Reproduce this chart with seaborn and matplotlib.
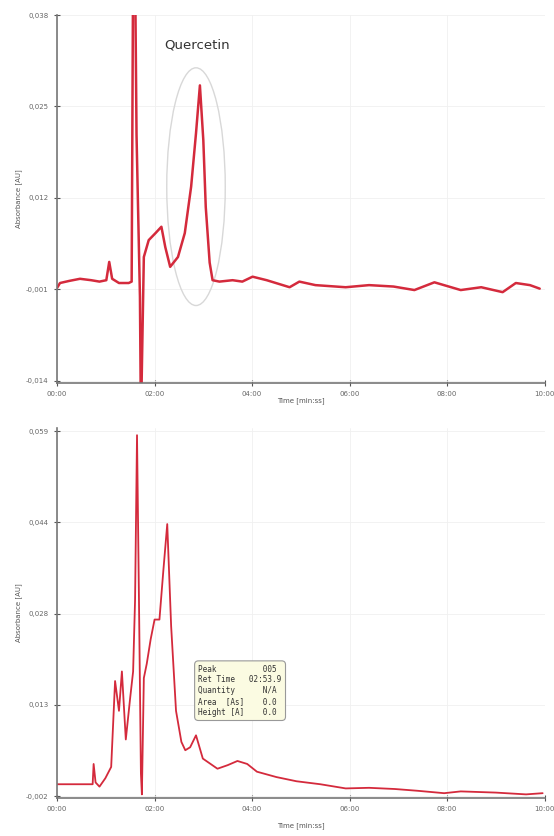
import seaborn as sns
import matplotlib.pyplot as plt
import pandas as pd
from matplotlib.patches import Ellipse

# ---- data (time in minutes, absorbance in AU) ----

top_time = [0.0, 0.06, 0.25, 0.47, 0.70, 0.87, 1.01, 1.07, 1.13, 1.27, 1.47, 1.53, 1.56, 1.60,
            1.63, 1.66, 1.70, 1.72, 1.78, 1.88, 2.02, 2.14, 2.22, 2.32, 2.48, 2.62,
            2.75, 2.85, 2.93, 3.00, 3.05, 3.13, 3.19, 3.33, 3.60, 3.80, 4.01, 4.30, 4.77, 4.97,
            5.30, 5.92, 6.40, 6.90, 7.33, 7.74, 8.28, 8.70, 9.14, 9.41, 9.70, 9.90]
top_abs = [-0.0008, -0.0001, 0.0002, 0.0005, 0.0003, 0.0001, 0.0003, 0.0029, 0.0005, -0.0001, -0.0001, 0.0001, 0.045, 0.045,
           0.021, 0.011, -0.002, -0.020, 0.0036, 0.0060, 0.0070, 0.0079, 0.0050, 0.0022, 0.0036, 0.0070,
           0.0136, 0.0212, 0.0280, 0.0202, 0.0107, 0.0028, 0.0003, 0.0001, 0.0003, 0.0001, 0.0008, 0.0003, -0.0007, 0.0001,
           -0.0004, -0.0007, -0.0004, -0.0006, -0.0011, 0.0000, -0.0011, -0.0007, -0.0014, -0.0001, -0.0004, -0.0009]

bot_time = [0.0, 0.73, 0.75, 0.79, 0.87, 0.99, 1.11, 1.19, 1.27, 1.33, 1.41, 1.50,
            1.56, 1.60, 1.64, 1.68, 1.72, 1.74, 1.78, 1.84, 1.92, 2.00, 2.10, 2.18,
            2.26, 2.34, 2.44, 2.55, 2.63, 2.73, 2.85, 2.99, 3.29, 3.50, 3.70, 3.90, 4.10,
            4.50, 4.91, 5.40, 5.92, 6.40, 6.93, 7.40, 7.94, 8.28, 9.00, 9.62, 9.96]
bot_abs = [-0.0002, -0.0002, 0.0032, 0.0001, -0.0006, 0.0008, 0.0027, 0.0171, 0.0121, 0.0187, 0.0073, 0.0143,
           0.0187, 0.0307, 0.0583, 0.0307, 0.0016, -0.0019, 0.0176, 0.0200, 0.0241, 0.0274, 0.0274, 0.0356,
           0.0434, 0.0263, 0.0121, 0.0069, 0.0055, 0.0060, 0.0080, 0.0041, 0.0024, 0.0030, 0.0037, 0.0032, 0.0019,
           0.0010, 0.0003, -0.0002, -0.0009, -0.0008, -0.0010, -0.0013, -0.0017, -0.0014, -0.0016, -0.0019, -0.0017]

x_ticks = [0, 2, 4, 6, 8, 10]
x_labels = ['00:00', '02:00', '04:00', '06:00', '08:00', '10:00']
top_yticks = [0.038, 0.025, 0.012, -0.001, -0.014]
top_ylabels = ['0,038', '0,025', '0,012', '-0,001', '-0,014']
bot_yticks = [0.059, 0.0437, 0.0284, 0.0131, -0.0022]
bot_ylabels = ['0,059', '0,044', '0,028', '0,013', '-0,002']

peak_info = ('Peak          005\n'
             'Ret Time   02:53.9\n'
             'Quantity      N/A\n'
             'Area  [As]    0.0\n'
             'Height [A]    0.0')

top_df = pd.DataFrame({'time': top_time, 'abs': top_abs})
bot_df = pd.DataFrame({'time': bot_time, 'abs': bot_abs})

sns.set_style('white')
fig = plt.figure(figsize=(5.54, 8.36), dpi=100)
ax1 = fig.add_axes([0.103, 0.542, 0.880, 0.440])
ax2 = fig.add_axes([0.103, 0.0455, 0.880, 0.4425])

red = '#d42a3c'
sns.lineplot(data=top_df, x='time', y='abs', ax=ax1, color=red, linewidth=1.8)
sns.lineplot(data=bot_df, x='time', y='abs', ax=ax2, color=red, linewidth=1.3)


def style_axis(ax, yticks, ylabels, ylim, xpad):
    ax.set_xlim(0, 10)
    ax.set_ylim(*ylim)
    ax.set_xticks(x_ticks)
    ax.set_xticklabels(x_labels)
    ax.set_yticks(yticks)
    ax.set_yticklabels(ylabels)
    ax.tick_params(direction='inout', length=5, width=0.8, colors='#555555',
                   labelsize=5, labelcolor='#666666', left=True, bottom=True)
    ax.grid(True, color='#f0f0f0', linewidth=0.6)
    for side in ['top', 'right']:
        ax.spines[side].set_visible(False)
    for side in ['left', 'bottom']:
        ax.spines[side].set_color('#777777')
        ax.spines[side].set_linewidth(1.2)
    ax.set_xlabel('Time [min:ss]', fontsize=5, color='#555555', labelpad=xpad)
    ax.set_ylabel('Absorbance [AU]', fontsize=5, color='#555555', labelpad=3)


style_axis(ax1, top_yticks, top_ylabels, (-0.0143, 0.038), 0)
style_axis(ax2, bot_yticks, bot_ylabels, (-0.0025, 0.0595), 7)

# Quercetin label and circle round its peak
ax1.text(2.87, 0.0338, 'Quercetin', fontsize=9.5, color='#333333', ha='center', va='center')
ax1.add_patch(Ellipse((2.85, 0.0136), width=1.2, height=0.0338, fill=False,
                      edgecolor='#d8d8d8', linewidth=1.0))

# peak info box on the lower chromatogram
ax2.text(0.29, 0.29, peak_info, transform=ax2.transAxes, fontsize=5.5, linespacing=1.25,
         family='DejaVu Sans Mono', color='#333333', va='center', ha='left',
         bbox=dict(boxstyle='round,pad=0.5', facecolor='#fbfbe2', edgecolor='#999999', linewidth=0.8))

fig.savefig('out.png', dpi=100)
